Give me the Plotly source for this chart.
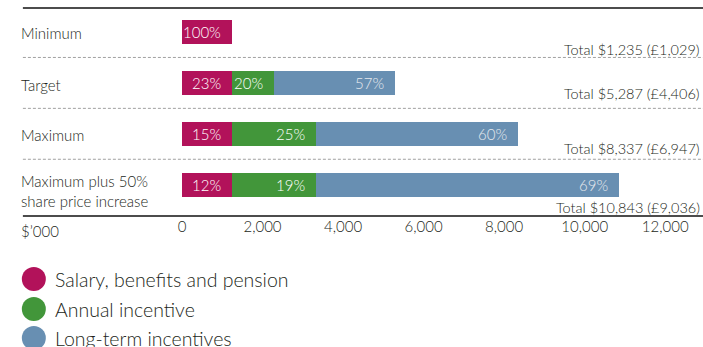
import plotly.graph_objects as go

categories = ["Minimum", "Target", "Maximum", "Maximum plus 50%<br>share price increase"]
salary = [1235, 1235, 1235, 1235]
annual = [0, 1057, 2085, 2085]
lti = [0, 2995, 5017, 7523]
salary_pct = ["100%", "23%", "15%", "12%"]
annual_pct = ["", "20%", "25%", "19%"]
lti_pct = ["", "57%", "60%", "69%"]
totals = ["Total $1,235 (£1,029)", "Total $5,287 (£4,406)",
          "Total $8,337 (£6,947)", "Total $10,843 (£9,036)"]
series_names = ["Salary, benefits and pension", "Annual incentive", "Long-term incentives"]
tick_vals = [0, 2000, 4000, 6000, 8000, 10000, 12000]
tick_text = ["0", "2,000", "4,000", "6,000", "8,000", "10,000", "12,000"]
unit_label = "$’000"

colors = ["#B2125A", "#42963A", "#688FB2"]
FONT = "Lato"
TXT = "#231F20"
W, H = 703, 347
TOP, BOT = 8, 216
ROW0, ROWSTEP = 32, 50.9

def py_to_data(py):
    return (py - ROW0) / ROWSTEP

def py_to_paper(py):
    return (BOT - py) / (BOT - TOP)

fig = go.Figure()
for vals, col, name in zip([salary, annual, lti], colors, series_names):
    fig.add_trace(go.Bar(y=categories, x=vals, orientation="h", marker=dict(color=col, line=dict(width=0)),
                         width=0.47, name=name, showlegend=False, hoverinfo="x+name"))

annotations = []
# percent labels inside bars (right aligned near bar end)
for i, cat in enumerate(categories):
    ends = [salary[i], salary[i] + annual[i], salary[i] + annual[i] + lti[i]]
    for j, (txt, xe) in enumerate(zip([salary_pct[i], annual_pct[i], lti_pct[i]], ends)):
        if txt:
            annotations.append(dict(x=xe, y=cat, xref="x", yref="y", text=txt, showarrow=False,
                                    xanchor="right", yanchor="middle", xshift=-9,
                                    font=dict(family=FONT, size=15, weight=300,
                                              color="#E6E9EE" if j == 2 else "white")))
# category labels
label_down = [1, 2, 1, 6]
for i, cat in enumerate(categories):
    annotations.append(dict(x=15 / W, y=cat, xref="paper", yref="y", text=cat, showarrow=False,
                            xanchor="left", yanchor="middle", align="left", yshift=-label_down[i],
                            font=dict(family=FONT, size=15, weight=300, color=TXT)))
# totals
total_py = [49, 93.5, 148.5, 207]
for i, t in enumerate(totals):
    annotations.append(dict(x=702 / W, y=py_to_data(total_py[i]), xref="paper", yref="y", text=t,
                            showarrow=False, xanchor="right", yanchor="middle",
                            font=dict(family=FONT, size=14.5, weight=300, color=TXT)))
# unit label
annotations.append(dict(x=15 / W, y=py_to_paper(231), xref="paper", yref="paper", text=unit_label,
                        showarrow=False, xanchor="left", yanchor="middle",
                        font=dict(family=FONT, size=15, weight=300, color=TXT)))

shapes = []
# top and bottom solid lines
for py in [TOP, BOT]:
    shapes.append(dict(type="line", xref="paper", yref="paper", x0=19 / W, x1=1,
                       y0=py_to_paper(py), y1=py_to_paper(py), line=dict(color="#111", width=1.5)))
# dashed separators
for k in range(len(categories) - 1):
    shapes.append(dict(type="line", xref="paper", yref="y", x0=19 / W, x1=1, y0=k + 0.5, y1=k + 0.5,
                       line=dict(color="#A0A0A0", width=1, dash="3px,2px")))

# custom legend
legend_py = [279, 309, 338]
for name, col, py in zip(series_names, colors, legend_py):
    shapes.append(dict(type="circle", xref="paper", yref="paper", xsizemode="pixel", ysizemode="pixel",
                       xanchor=30 / W, yanchor=py_to_paper(py), x0=-12, x1=12, y0=-12, y1=12,
                       fillcolor=col, line=dict(width=0)))
    annotations.append(dict(x=49 / W, y=py_to_paper(py), xref="paper", yref="paper", text=name,
                            showarrow=False, xanchor="left", yanchor="middle",
                            font=dict(family=FONT, size=19.5, weight=300, color=TXT)))

fig.update_layout(
    width=W, height=H, barmode="stack", plot_bgcolor="white", paper_bgcolor="white",
    margin=dict(l=0, r=0, t=TOP, b=H - BOT),
    xaxis=dict(domain=[179 / W, 1], range=[0, (W - 179) / 0.0405], tickvals=tick_vals, ticktext=tick_text,
               showgrid=False, zeroline=False, showline=False, ticks="",
               tickfont=dict(family=FONT, size=15, weight=300, color=TXT)),
    yaxis=dict(categoryorder="array", categoryarray=categories, range=[py_to_data(BOT), py_to_data(TOP)],
               showticklabels=False, showgrid=False, zeroline=False, showline=False, ticks=""),
    annotations=annotations, shapes=shapes, showlegend=False,
)
fig.write_html("out.html")
